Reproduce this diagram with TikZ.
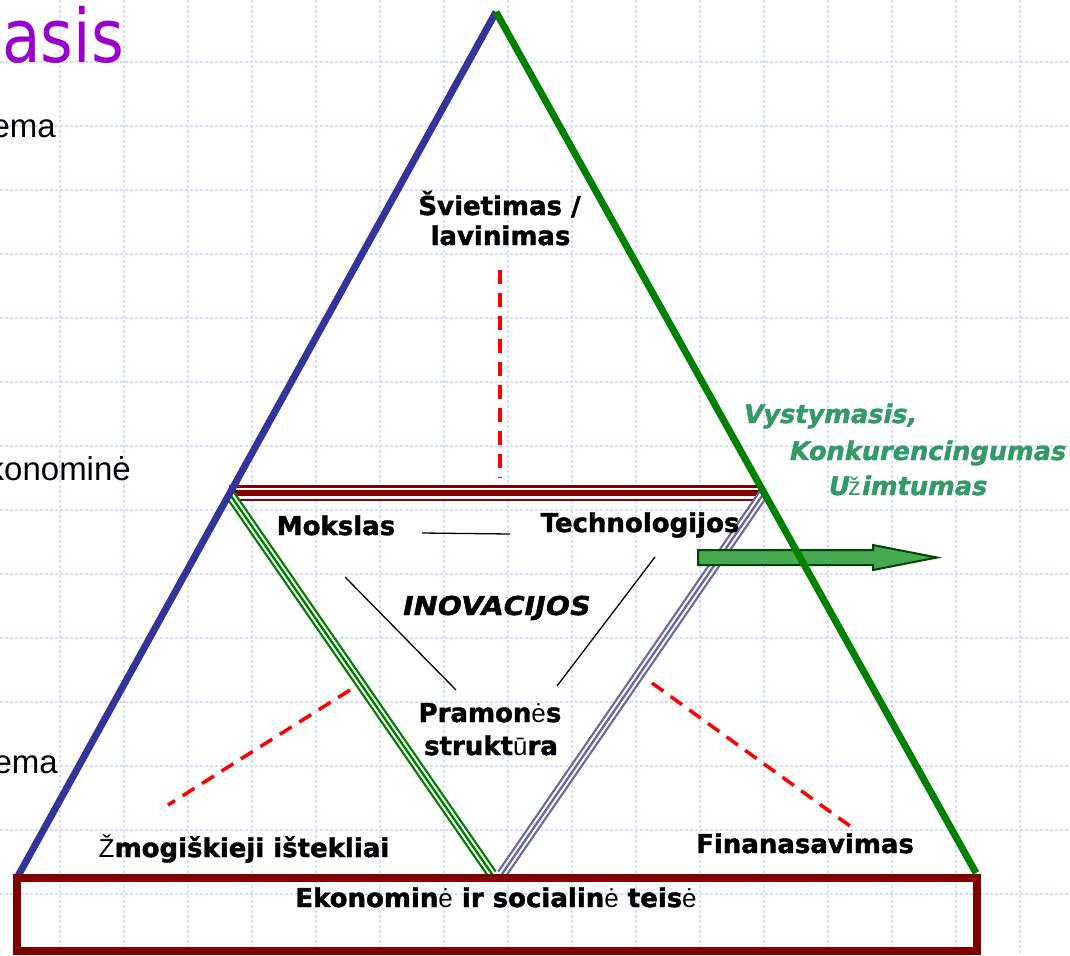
\documentclass[tikz,border=0pt]{standalone}
\usepackage{fontspec}
\setmainfont{Liberation Sans}
\newfontfamily\blk[FakeBold=1.6]{DejaVu Sans Bold}
\newfontfamily\blki[FakeBold=1.6, FakeSlant=0.2]{DejaVu Sans Bold}
\newfontfamily\blkw[FakeBold=1.6, FakeSlant=0.2, FakeStretch=1.1]{DejaVu Sans Bold}
\newfontfamily\ttlfont[FakeStretch=0.85]{DejaVu Sans}
\newcommand\rgl[1]{{\normalfont\mdseries\upshape #1}}
\definecolor{triBlue}{RGB}{51,51,153}
\definecolor{triGreen}{RGB}{0,128,0}
\definecolor{dred}{RGB}{128,0,0}
\definecolor{lilac}{RGB}{106,106,160}
\definecolor{gridc}{RGB}{214,222,247}
\definecolor{ttl}{RGB}{153,0,204}
\definecolor{sea}{RGB}{51,153,102}
\definecolor{arrowfill}{RGB}{70,168,80}
\definecolor{arrowdraw}{RGB}{0,70,0}
\tikzset{
  gridl/.style={draw=gridc, line width=1.2pt, dash pattern=on 3pt off 2pt},
  sideline/.style={line width=7pt},
  outerR/.style={draw=dred, line width=16pt},
  innerW/.style={draw=white, line width=#1},
  innerR/.style={draw=dred, line width=6pt},
  outerG/.style={draw=triGreen, line width=11pt},
  innerG/.style={draw=triGreen, line width=2.4pt},
  outerP/.style={draw=lilac, line width=11pt},
  innerP/.style={draw=lilac, line width=2.4pt},
  reddash/.style={draw=red, line width=3.5pt, dash pattern=on 14pt off 9pt},
  thin/.style={draw=black, line width=1.3pt},
  lab/.style={font=\blk\fontsize{26}{30}\selectfont, inner sep=0pt, anchor=base},
  gtext/.style={font=\blki\fontsize{25.6}{30}\selectfont, text=sea, inner sep=0pt, anchor=base west},
  side/.style={font=\fontsize{33}{38}\selectfont, inner sep=0pt, anchor=base east}
}
\begin{document}
\begin{tikzpicture}[x=1pt,y=-1pt]
\useasboundingbox (0,0) rectangle (1070,955);
% grid
\foreach \x in {60,124,...,1070} \draw[gridl] (\x,0) -- (\x,955);
\foreach \y in {62,126,...,955} \draw[gridl] (0,\y) -- (1070,\y);
% coordinates
\coordinate (apex) at (496,12);
\coordinate (bl) at (18,876);
\coordinate (br) at (976,873);
\coordinate (ml) at (229,493);
\coordinate (mr) at (764,493);
\coordinate (bmg) at (492,874);
\coordinate (bmp) at (502,874);
% triple lines
\draw[outerR] (ml) -- (mr);
\draw[innerW=11pt] (ml) -- (mr);
\draw[innerR] (ml) -- (mr);
\draw[outerG] (ml) -- (bmg);
\draw[innerW=6.4pt] (ml) -- (bmg);
\draw[innerG] (ml) -- (bmg);
\draw[outerP] (mr) -- (bmp);
\draw[innerW=6.4pt] (mr) -- (bmp);
\draw[innerP] (mr) -- (bmp);
% arrow
\coordinate (a1) at (698,550);
\draw[fill=arrowfill, draw=arrowdraw, line width=2pt, line join=miter]
  (a1) -- (873,550) -- (873,545) -- (937,557.5) -- (873,570) -- (873,565) -- (698,565) -- cycle;
% triangle sides
\draw[sideline, triBlue] (apex) -- (bl);
\draw[sideline, triGreen] (apex) -- (br);
% bottom box
\draw[draw=dred, line width=8pt] (17,878) rectangle (977,951);
% red dashed
\coordinate (d1a) at (500,270); \coordinate (d1b) at (500,478);
\coordinate (d2a) at (350,690); \coordinate (d2b) at (168,805);
\coordinate (d3a) at (652,683); \coordinate (d3b) at (850,826);
\draw[reddash] (d1a) -- (d1b);
\draw[reddash] (d2a) -- (d2b);
\draw[reddash] (d3a) -- (d3b);
% thin black
\coordinate (t1a) at (422,533); \coordinate (t1b) at (510,534);
\coordinate (t2a) at (345,577); \coordinate (t2b) at (456,690);
\coordinate (t3a) at (655,557); \coordinate (t3b) at (557,686);
\draw[thin] (t1a) -- (t1b);
\draw[thin] (t2a) -- (t2b);
\draw[thin] (t3a) -- (t3b);
% texts
\node[font=\ttlfont\fontsize{74}{80}\selectfont, text=ttl, inner sep=0pt, anchor=base east] (title) at (124,63) {asis};
\node[side] (s1) at (56,137) {ema};
\node[side] (s2) at (131,480) {konomin\.e};
\node[side] (s3) at (58,773) {ema};
\node[lab] (sv1) at (499.5,215) {Švietimas /};
\node[lab] (sv2) at (500.5,245) {lavinimas};
\node[lab] (mok) at (336,535) {Mokslas};
\node[lab] (tech) at (640,532) {Technologijos};
\node[lab, font=\blkw\fontsize{26}{30}\selectfont] (ino) at (495,615) {INOVACIJOS};
\node[lab] (pr1) at (490,722) {Pramon\rgl{\.e}s};
\node[lab] (pr2) at (491,755) {strukt\rgl{ū}ra};
\node[lab] (zm) at (244,857) {\rgl{Ž}mogiškieji ištekliai};
\node[lab] (fin) at (805,853) {Finanasavimas};
\node[lab] (ek) at (496,907) {Ekonomin\rgl{\.e} ir socialin\rgl{\.e} teis\rgl{\.e}};
\node[gtext] (g1) at (742,423) {Vystymasis,};
\node[gtext] (g2) at (788,460) {Konkurencingumas};
\node[gtext] (g3) at (827,495) {U\rgl{ž}imtumas};
\end{tikzpicture}
\end{document}
